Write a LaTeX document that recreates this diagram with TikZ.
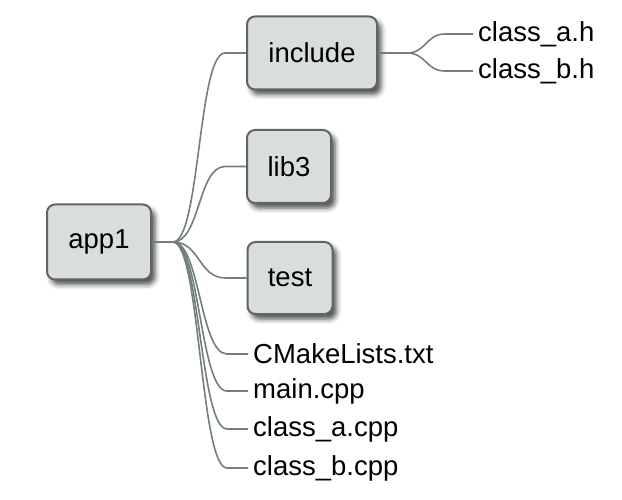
\documentclass[tikz,border=0pt]{standalone}
\usepackage{fontspec}
\setmainfont{Liberation Sans}
\usetikzlibrary{shadows.blur}
\definecolor{boxfill}{RGB}{217,222,221}
\definecolor{boxline}{RGB}{95,101,100}
\definecolor{connline}{RGB}{115,127,125}
\tikzset{
  dirbox/.style={draw=boxline, line width=2pt, fill=boxfill, rounded corners=8pt,
    minimum height=73pt, inner sep=0pt, font=\fontsize{27.5}{32}\selectfont,
    blur shadow={shadow xshift=4pt, shadow yshift=-5pt, shadow blur radius=5pt, shadow opacity=70}},
  leaf/.style={anchor=west, inner xsep=5pt, inner ysep=0pt, font=\fontsize{27.5}{32}\selectfont},
  conn/.style={draw=connline, line width=1.6pt}
}
\begin{document}
\begin{tikzpicture}[x=1pt,y=-1pt]
\useasboundingbox (0,0) rectangle (622,500);
% boxes
\node[dirbox, minimum width=104pt, minimum height=75pt] (app1) at (99,242) {app1};
\node[dirbox, minimum width=130pt] (include) at (312,53) {include};
\node[dirbox, minimum width=84pt] (lib3) at (289,166.5) {lib3};
\node[dirbox, minimum width=85pt, minimum height=72pt] (test) at (290,278) {test};
% leaves
\node[leaf] (cah) at (473,34) {class\_a.h};
\node[leaf] (cbh) at (473,71) {class\_b.h};
\node[leaf] (cmake) at (248,354) {CMakeLists.txt};
\node[leaf] (mainc) at (248,391) {main.cpp};
\node[leaf] (cac) at (248,429) {class\_a.cpp};
\node[leaf] (cbc) at (248,468) {class\_b.cpp};
% junctions
\coordinate (j0) at (173,242);
\coordinate (j1) at (407,53);
% connectors
\draw[conn] (app1.east) -- (j0);
\foreach \t in {include,lib3,test,cmake,mainc,cac,cbc}{
  \draw[conn] (j0) .. controls +(27,0) and +(-27,0) .. ([xshift=-21pt]\t.west) -- (\t.west);
}
\draw[conn] (include.east) -- (j1);
\foreach \t in {cah,cbh}{
  \draw[conn] (j1) .. controls +(19,0) and +(-19,0) .. ([xshift=-28pt]\t.west) -- (\t.west);
}
\end{tikzpicture}
\end{document}
